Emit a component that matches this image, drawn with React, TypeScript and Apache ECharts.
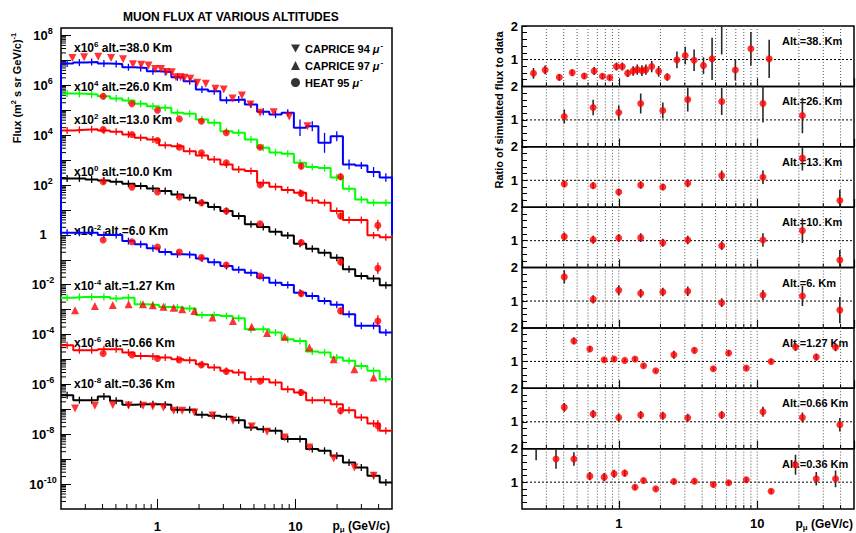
import React, { useEffect, useRef } from "react";
import * as echarts from "echarts";

const FONT = "'Liberation Sans', Arial, Helvetica, sans-serif";
const DOWN_TRI = "path://M0,0L10,0L5,8.66Z";

// ---- axis tick positions (GeV/c) ----
const xMinorTicks = [0.3, 0.4, 0.5, 0.6, 0.7, 0.8, 0.9, 2, 3, 4, 5, 6, 7, 8, 9, 20, 30, 40];
const xMajorTicks = [1, 10];

// ---- simulation histogram bin edges (GeV/c) ----
const binEdges = [0.2, 0.2454, 0.3011, 0.3694, 0.4532, 0.5559, 0.682, 0.8367, 1.027, 1.26, 1.545, 1.896, 2.326, 2.854, 3.501, 4.295, 5.27, 6.466, 7.932, 9.732, 11.94, 14.65, 17.97, 22.05, 27.05, 33.19, 40.72, 50];

// ---- simulated flux (already multiplied by the altitude scale factor) ----
const sim38 = [7.48e6, 8.2e6, 8.73e6, 7.48e6, 7.24e6, 5.33e6, 5.01e6, 3.69e6, 3.47e6, 2.12e6, 1.47e6, 6.79e5, 5.82e5, 2.54e5, 2.7e5, 1.7e5, 8.65e4, 6.76e4, 7.89e4, 1.97e4, 2.3e4, 4.94e3, 9.12e3, 670, 611, 331, 200];
// statistical error of the 38 km histogram, in decades
const sim38ErrDex = [0, 0, 0, 0, 0, 0, 0, 0, 0, 0, 0, 0, 0, 0, 0, 0, 0.05, 0.06, 0.08, 0.33, 0.2, 0.4, 0.2, 0.2, 0.13, 0.2, 0.17];
const sim38Floor = 1;
const sim26 = [4.69e5, 4.55e5, 4.28e5, 3.67e5, 2.96e5, 2.46e5, 1.81e5, 1.46e5, 1.25e5, 7.89e4, 7.19e4, 4.26e4, 3.13e4, 1.45e4, 1.24e4, 6.73e3, 3.12e3, 2.0e3, 1.78e3, 783, 525, 479, 200, 70.8, 26.3, 19.5, 19.5];
const sim13 = [1.54e4, 1.64e4, 1.75e4, 1.54e4, 1.36e4, 1.07e4, 7.83e3, 6.73e3, 3.99e3, 3.63e3, 2.29e3, 1.54e3, 1.06e3, 670, 422, 362, 123, 85.1, 62.5, 49.0, 24.2, 19.5, 8.99, 3.92, 3.92, 0.955, 0.794];
const sim10 = [184, 184, 168, 153, 135, 112, 90.6, 73.1, 57.1, 42.0, 30.9, 19.5, 13.1, 9.02, 5.69, 2.64, 2.06, 1.32, 0.933, 0.437, 0.275, 0.191, 0.12, 0.0417, 0.0224, 0.0178, 0.00955];
const sim6 = [1.22, 1.22, 1.22, 0.982, 0.982, 0.562, 0.417, 0.288, 0.204, 0.166, 0.158, 0.112, 0.0794, 0.0562, 0.0398, 0.0302, 0.0191, 0.012, 0.00977, 0.00479, 0.00355, 0.00224, 0.00158, 6.46e-4, 2.24e-4, 2.24e-4, 1.2e-4];
const sim127 = [3.03e-3, 3.23e-3, 3.23e-3, 3.23e-3, 2.77e-3, 3.03e-3, 1.64e-3, 1.54e-3, 1.28e-3, 1.21e-3, 1.1e-3, 6.12e-4, 6.12e-4, 5.58e-4, 4.51e-4, 1.63e-4, 1.63e-4, 1.2e-4, 6.49e-5, 5.56e-5, 2.08e-5, 1.9e-5, 1.19e-5, 8.79e-6, 5.53e-6, 3.49e-6, 1.62e-6];
const sim066 = [3.73e-5, 2.35e-5, 2.35e-5, 2.58e-5, 2.58e-5, 1.9e-5, 1.39e-5, 1.31e-5, 1.19e-5, 1.02e-5, 9.33e-6, 6.46e-6, 4.74e-6, 3.49e-6, 2.99e-6, 1.62e-6, 1.62e-6, 1.19e-6, 6.43e-7, 4.72e-7, 2.33e-7, 2.33e-7, 1.61e-7, 9.25e-8, 4.7e-8, 2.7e-8, 1.37e-8];
const sim036 = [3.7e-7, 2.33e-7, 2.33e-7, 3.27e-7, 2.19e-7, 1.51e-7, 1.61e-7, 1.61e-7, 1.51e-7, 9.55e-8, 9.55e-8, 6.01e-8, 5.48e-8, 5.0e-8, 3.67e-8, 1.87e-8, 1.6e-8, 1.37e-8, 6.37e-9, 6.37e-9, 2.53e-9, 2.17e-9, 1.37e-9, 7.4e-10, 4.66e-10, 2.16e-10, 1.17e-10];

// ---- measured data (scaled) ----
const caprice94BalloonP = [0.242, 0.294, 0.372, 0.461, 0.563, 0.664, 0.762, 0.861, 0.962, 1.06, 1.16, 1.27, 1.36, 1.47, 1.57, 1.73, 1.94, 2.24, 2.63, 3.02, 3.5, 4.09, 4.72, 5.54, 6.95, 9.0, 12.2];
const caprice94At38 = [1.26e7, 1.35e7, 1.41e7, 1.26e7, 1.12e7, 7.08e6, 6.76e6, 6.31e6, 4.57e6, 4.57e6, 3.47e6, 3.39e6, 2.09e6, 2.09e6, 2.0e6, 1.86e6, 1.26e6, 1.15e6, 7.24e5, 6.76e5, 2.95e5, 3.89e5, 1.7e5, 7.94e4, 8.32e4, 5.62e4, 2.29e4];
const heatP = [0.404, 0.653, 1.0, 1.44, 2.08, 3.15, 5.54, 11.0, 21.2, 39.5];
// HEAT measurement error, in decades
const heatErrDex = [0.02, 0.02, 0.02, 0.02, 0.03, 0.03, 0.05, 0.12, 0.14, 0.23];
const heat26 = [3.66e5, 1.82e5, 1.0e5, 4.5e4, 3.6e4, 1.25e4, 3.3e3, 572, 215];
const heat13 = [1.7e4, 1.07e4, 6.1e3, 3.3e3, 1.96e3, 780, 100, 46, 5.7, 2.4];
const heat10 = [135, 82.6, 52.5, 32.8, 19.5, 9.0, 2.8, 0.49, 0.081, 0.046];
const heat6 = [0.621, 0.532, 0.325, 0.205, 0.122, 0.0618, 0.0224, 0.00439, 8.9e-4, 3.5e-4];
const heat066 = [1.73e-5, 1.53e-5, 1.1e-5, 9.64e-6, 6.07e-6, 3.28e-6, 1.35e-6, 4.72e-7, 8.71e-8, 2.19e-8];
const groundP = [0.253, 0.352, 0.474, 0.618, 0.785, 0.925, 1.104, 1.31, 1.51, 1.85, 2.5, 3.52, 4.82, 6.22, 8.34, 12.6, 18.9, 26.7, 36.8];
const caprice97At127 = [9.42e-4, 1.41e-3, 1.55e-3, 1.64e-3, 1.64e-3, 1.49e-3, 1.32e-3, 1.2e-3, 1.03e-3, 8.91e-4, 4.79e-4, 3.51e-4, 2.04e-4, 1.15e-4, 8.13e-5, 3.02e-5, 1.02e-5, 4.07e-6, 1.91e-6];
const caprice94At036 = [1.07e-7, 1.38e-7, 1.48e-7, 1.41e-7, 1.38e-7, 1.29e-7, 1.17e-7, 8.71e-8, 8.71e-8, 7.41e-8, 5.62e-8, 3.47e-8, 2.04e-8, 1.26e-8, 7.41e-9, 2.95e-9, 1.07e-9, 4.68e-10, 2.14e-10];

// ---- ratio of simulated flux to data ----
const ratio38 = [0.59, 0.69, 0.47, 0.61, 0.51, 0.66, 0.5, 0.46, 0.79, 0.79, 0.59, 0.66, 0.7, 0.67, 0.7, 0.79, 0.65, 0.48, 0.99, 1.12, 0.98, 0.82, 1.02, 2.3, 0.69, 1.32, 1.02];
const ratio38Err = [0.16, 0.13, 0.1, 0.09, 0.08, 0.12, 0.08, 0.07, 0.12, 0.12, 0.11, 0.14, 0.15, 0.16, 0.15, 0.17, 0.16, 0.11, 0.25, 0.26, 0.32, 0.25, 0.63, 1.15, 0.31, 0.5, 0.57];
const ratio26 = [1.1, 1.37, 1.22, 1.49, 1.28, 1.61, 1.55, 1.49, 1.13];
const ratio26Err = [0.21, 0.23, 0.21, 0.3, 0.24, 0.36, 0.4, 0.57, 0.53];
const ratio13 = [0.89, 0.84, 0.65, 0.86, 0.8, 0.91, 1.14, 1.09, 1.66, 0.4];
const ratio13Err = [0.1, 0.1, 0.1, 0.11, 0.1, 0.12, 0.15, 0.2, 0.37, 0.32];
const ratio10 = [1.12, 1.03, 1.08, 1.09, 0.94, 1.02, 0.85, 1.02, 1.3, 0.42];
const ratio10Err = [0.12, 0.12, 0.12, 0.13, 0.12, 0.13, 0.13, 0.2, 0.37, 0.3];
const ratio6 = [1.72, 1.05, 1.32, 1.23, 1.27, 1.29, 0.95, 1.18, 1.15, 0.73];
const ratio6Err = [0.2, 0.12, 0.15, 0.13, 0.13, 0.14, 0.13, 0.15, 0.3, 0.39];
const ratio127P = [0.474, 0.618, 0.785, 0.925, 1.104, 1.31, 1.51, 1.85, 2.5, 3.52, 4.82, 6.22, 8.34, 12.6, 18.9, 26.7, 36.8];
const ratio127 = [1.61, 1.37, 1.05, 1.07, 1.03, 1.07, 0.87, 0.72, 1.2, 1.33, 0.78, 1.25, 0.8, 1.0, 1.43, 1.13, 1.42];
const ratio127Err = [0.1, 0.08, 0.06, 0.06, 0.05, 0.06, 0.06, 0.05, 0.12, 0.08, 0.06, 0.08, 0.06, 0.07, 0.12, 0.1, 0.12];
const ratio066 = [1.43, 1.23, 1.13, 1.2, 1.18, 1.12, 1.2, 1.3, 1.13, 0.91];
const ratio066Err = [0.13, 0.12, 0.12, 0.12, 0.12, 0.12, 0.12, 0.15, 0.15, 0.2];
const ratio036 = [2.05, 1.69, 1.69, 1.18, 1.15, 1.25, 1.27, 0.85, 1.05, 0.8, 1.02, 1.03, 0.93, 0.98, 1.07, 0.73, 1.52, 1.1, 1.1];
const ratio036Err = [0.4, 0.29, 0.2, 0.12, 0.12, 0.12, 0.1, 0.07, 0.07, 0.05, 0.08, 0.07, 0.07, 0.07, 0.08, 0.07, 0.3, 0.2, 0.25];

const BLUE = "#0000ff";
const GREEN = "#00ff00";
const RED = "#ff0000";
const BLACK = "#000000";

function zip(xs: number[], ys: number[]) {
  return ys.map((y, i) => [xs[i], y]);
}

function histData(vals: number[], floor?: number) {
  const pts: number[][] = [];
  if (floor != null) pts.push([binEdges[0], floor]);
  vals.forEach((v, k) => pts.push([binEdges[k], v]));
  pts.push([binEdges[vals.length], vals[vals.length - 1]]);
  if (floor != null) pts.push([binEdges[vals.length], floor]);
  return pts;
}

function lineEl(x1: number, y1: number, x2: number, y2: number, style: any) {
  return { type: "line", shape: { x1, y1, x2, y2 }, style };
}

function textEl(x: number, y: number, text: string, opts: any = {}) {
  const { align = "left", rotation = 0, fontSize = 12, rich } = opts;
  return {
    type: "text",
    x,
    y,
    rotation,
    silent: true,
    style: {
      text,
      fill: "#000",
      fontSize,
      fontWeight: "bold",
      fontFamily: FONT,
      align,
      textAlign: align,
      verticalAlign: "middle",
      textVerticalAlign: "middle",
      rich,
    },
  };
}

function tokenStyle(size: number, extra: any = {}) {
  return { fontSize: size, fontWeight: "bold", fontFamily: FONT, fill: "#000", color: "#000", ...extra };
}

function powLabel(v: number) {
  const lg = Math.log10(v);
  const e = Math.round(lg);
  if (Math.abs(lg - e) > 0.01) return "";
  if (e % 2 !== 0) return "";
  if (e === 0) return "{b|1}";
  return `{b|10}{e|${e}}`;
}

function buildOption() {
  const grid: any[] = [];
  const xAxis: any[] = [];
  const yAxis: any[] = [];
  const series: any[] = [];
  const axisTxt = { color: "#000", fontFamily: FONT, fontWeight: "bold" };

  // ---------- left panel ----------
  grid.push({ left: 61, top: 28, width: 331, height: 481, show: true, borderColor: "#000", borderWidth: 1.5, backgroundColor: "rgba(0,0,0,0)" });
  xAxis.push({
    type: "log", logBase: 10, gridIndex: 0, min: 0.2, max: 50,
    axisLine: { show: false },
    axisTick: { inside: true, length: 10, lineStyle: { color: "#000", width: 1 } },
    axisLabel: { ...axisTxt, fontSize: 13, margin: 11, showMinLabel: false, showMaxLabel: false },
    splitLine: { show: false },
  });
  yAxis.push({
    type: "log", logBase: 10, gridIndex: 0, min: 1e-11, max: 2e8, interval: 1,
    axisLine: { show: false },
    axisTick: { inside: true, length: 10, lineStyle: { color: "#000", width: 1 } },
    axisLabel: {
      showMinLabel: false, showMaxLabel: false, margin: 18, align: "center",
      formatter: powLabel,
      rich: { b: tokenStyle(13), e: tokenStyle(9, { padding: [0, 0, 9, 0] }) },
    },
    splitLine: { show: false },
  });

  // minor ticks of the left panel
  series.push({
    type: "custom", xAxisIndex: 0, yAxisIndex: 0, silent: true, z: 1, data: [[1, 1]],
    renderItem: (params: any, api: any) => {
      const cs = params.coordSys;
      const ch: any[] = [];
      const st = { stroke: "#000", lineWidth: 1 };
      for (const x of xMinorTicks) {
        const px = api.coord([x, 1])[0];
        ch.push(lineEl(px, cs.y + cs.height, px, cs.y + cs.height - 5, st));
      }
      for (let d = -11; d <= 8; d++) {
        for (let m = 2; m <= 9; m++) {
          const v = m * Math.pow(10, d);
          if (v >= 2e8) continue;
          const py = api.coord([1, v])[1];
          ch.push(lineEl(cs.x, py, cs.x + 5, py, st));
        }
      }
      return { type: "group", children: ch };
    },
  });

  const histos = [
    { sim: sim036, color: BLACK },
    { sim: sim066, color: RED },
    { sim: sim127, color: GREEN },
    { sim: sim6, color: BLUE },
    { sim: sim10, color: BLACK },
    { sim: sim13, color: RED },
    { sim: sim26, color: GREEN },
    { sim: sim38, color: BLUE, floor: sim38Floor, err: sim38ErrDex },
  ];
  histos.forEach((h: any) => {
    series.push({
      type: "line", xAxisIndex: 0, yAxisIndex: 0, step: "end", symbol: "none", silent: true,
      data: histData(h.sim, h.floor), lineStyle: { color: h.color, width: 2 }, z: 2,
    });
    const centers = h.sim.map((v: number, k: number) => [Math.sqrt(binEdges[k] * binEdges[k + 1]), v, h.err ? h.err[k] : 0]);
    series.push({
      type: "custom", xAxisIndex: 0, yAxisIndex: 0, silent: true, z: 3, data: centers, clip: true,
      renderItem: (params: any, api: any) => {
        const x = api.value(0);
        const v = api.value(1);
        const e = api.value(2);
        const p = api.coord([x, v]);
        const lo = api.coord([x, v * Math.pow(10, -e)])[1];
        const hi = api.coord([x, v * Math.pow(10, e)])[1];
        const y1 = Math.min(hi, p[1] - 3.5);
        const y2 = Math.max(lo, p[1] + 3.5);
        return lineEl(p[0], y1, p[0], y2, { stroke: h.color, lineWidth: 1.3 });
      },
    });
  });

  const markers = [
    { name: "CAPRICE 94", x: caprice94BalloonP, y: caprice94At38, symbol: DOWN_TRI, size: 8 },
    { name: "HEAT 95", x: heatP, y: heat26, symbol: "circle", size: 7, err: heatErrDex },
    { name: "HEAT 95", x: heatP, y: heat13, symbol: "circle", size: 7, err: heatErrDex },
    { name: "HEAT 95", x: heatP, y: heat10, symbol: "circle", size: 7, err: heatErrDex },
    { name: "HEAT 95", x: heatP, y: heat6, symbol: "circle", size: 7, err: heatErrDex },
    { name: "CAPRICE 97", x: groundP, y: caprice97At127, symbol: "triangle", size: 8 },
    { name: "HEAT 95", x: heatP, y: heat066, symbol: "circle", size: 7, err: heatErrDex },
    { name: "CAPRICE 94", x: groundP, y: caprice94At036, symbol: DOWN_TRI, size: 8 },
  ];
  markers.forEach((m: any) => {
    if (m.err) {
      series.push({
        type: "custom", xAxisIndex: 0, yAxisIndex: 0, silent: true, z: 4, clip: true,
        data: m.y.map((y: number, k: number) => [m.x[k], y, m.err[k]]),
        renderItem: (params: any, api: any) => {
          const x = api.value(0);
          const v = api.value(1);
          const e = api.value(2);
          const a = api.coord([x, v * Math.pow(10, -e)]);
          const b = api.coord([x, v * Math.pow(10, e)]);
          return lineEl(a[0], a[1], b[0], b[1], { stroke: RED, lineWidth: 1.3 });
        },
      });
    }
    series.push({
      type: "scatter", name: m.name, xAxisIndex: 0, yAxisIndex: 0, symbol: m.symbol, symbolSize: m.size,
      data: zip(m.x, m.y), itemStyle: { color: RED }, z: 5, silent: true,
    });
  });

  // ---------- right panels ----------
  const panels = [
    { x: caprice94BalloonP, v: ratio38, e: ratio38Err, label: "Alt.=38. Km" },
    { x: heatP, v: ratio26, e: ratio26Err, label: "Alt.=26. Km" },
    { x: heatP, v: ratio13, e: ratio13Err, label: "Alt.=13. Km" },
    { x: heatP, v: ratio10, e: ratio10Err, label: "Alt.=10. Km" },
    { x: heatP, v: ratio6, e: ratio6Err, label: "Alt.=6. Km" },
    { x: ratio127P, v: ratio127, e: ratio127Err, label: "Alt.=1.27 Km" },
    { x: heatP, v: ratio066, e: ratio066Err, label: "Alt.=0.66 Km" },
    { x: groundP, v: ratio036, e: ratio036Err, label: "Alt.=0.36 Km" },
  ];
  const PANEL_TOP = 26;
  const PANEL_H = 60.375;
  const graphic: any[] = [];

  panels.forEach((p, i) => {
    const gi = i + 1;
    const top = PANEL_TOP + i * PANEL_H;
    grid.push({ left: 522, top, width: 332, height: PANEL_H, show: true, borderColor: "#000", borderWidth: 1.5, backgroundColor: "rgba(0,0,0,0)" });
    xAxis.push({
      type: "log", logBase: 10, gridIndex: gi, min: 0.2, max: 50,
      axisLine: { show: false },
      axisTick: { inside: true, length: 8, lineStyle: { color: "#000", width: 1.2 } },
      axisLabel: { show: i === panels.length - 1, ...axisTxt, fontSize: 13, margin: 8, showMinLabel: false, showMaxLabel: false },
      splitLine: { show: false },
    });
    yAxis.push({
      type: "value", gridIndex: gi, min: 0.2, max: 2, interval: 0.2,
      axisLine: { show: false },
      axisTick: { inside: true, length: 5, lineStyle: { color: "#000", width: 1 } },
      axisLabel: {
        ...axisTxt, fontSize: 13, margin: 4, showMinLabel: false, showMaxLabel: true,
        formatter: (v: number) => (Math.abs(v - 1) < 1e-6 ? "1" : Math.abs(v - 2) < 1e-6 ? "2" : ""),
      },
      splitLine: { show: false },
    });
    // dotted grid
    series.push({
      type: "custom", xAxisIndex: gi, yAxisIndex: gi, silent: true, z: 1, data: [[1, 1]],
      renderItem: (params: any, api: any) => {
        const cs = params.coordSys;
        const ch: any[] = [];
        for (const x of [...xMinorTicks, ...xMajorTicks]) {
          const px = api.coord([x, 1])[0];
          ch.push(lineEl(px, cs.y, px, cs.y + cs.height, { stroke: "#555", lineWidth: 1, lineDash: [1, 2] }));
        }
        for (const x of xMinorTicks) {
          const px = api.coord([x, 1])[0];
          ch.push(lineEl(px, cs.y + cs.height, px, cs.y + cs.height - 4, { stroke: "#000", lineWidth: 1 }));
        }
        const py = api.coord([1, 1])[1];
        ch.push(lineEl(cs.x, py, cs.x + cs.width, py, { stroke: "#000", lineWidth: 1, lineDash: [2, 2] }));
        return { type: "group", children: ch };
      },
    });
    // error bars
    series.push({
      type: "custom", xAxisIndex: gi, yAxisIndex: gi, silent: true, z: 3, clip: true,
      data: p.v.map((v, k) => [p.x[k], v, p.e[k]]),
      renderItem: (params: any, api: any) => {
        const x = api.value(0);
        const v = api.value(1);
        const e = api.value(2);
        const a = api.coord([x, v - e]);
        const b = api.coord([x, v + e]);
        return lineEl(a[0], a[1], b[0], b[1], { stroke: "#2a2a2a", lineWidth: 1.6 });
      },
    });
    series.push({
      type: "scatter", name: `ratio-${i}`, xAxisIndex: gi, yAxisIndex: gi, symbol: "circle", symbolSize: 7, clip: true,
      data: zip(p.x, p.v), itemStyle: { color: RED }, z: 4, silent: true,
    });
    graphic.push(textEl(782, top + 15, p.label, { fontSize: 11 }));
  });

  // left altitude labels
  const leftLabels = [
    { exp: "6", alt: "38.0", y: 48 },
    { exp: "4", alt: "26.0", y: 87 },
    { exp: "2", alt: "13.0", y: 120 },
    { exp: "0", alt: "10.0", y: 172 },
    { exp: "-2", alt: "6.0", y: 231 },
    { exp: "-4", alt: "1.27", y: 286 },
    { exp: "-6", alt: "0.66", y: 343 },
    { exp: "-8", alt: "0.36", y: 384 },
  ];
  const labRich = { b: tokenStyle(12), e: tokenStyle(8, { padding: [0, 0, 8, 0] }) };
  leftLabels.forEach((l) => {
    graphic.push(textEl(74, l.y, `{b|x10}{e|${l.exp}}{b| alt.=${l.alt} Km}`, { rich: labRich }));
  });

  // axis titles
  const titleRich = { b: tokenStyle(11), e: tokenStyle(7.5, { padding: [0, 0, 7, 0] }) };
  graphic.push(textEl(17, 88, "{b|Flux (m}{e|2}{b| s sr GeV/c)}{e|-1}", { rotation: Math.PI / 2, align: "center", rich: titleRich }));
  graphic.push(textEl(499, 110, "Ratio of simulated flux to data", { rotation: Math.PI / 2, align: "center", fontSize: 11 }));
  const pRich = { b: tokenStyle(12), s: tokenStyle(8, { padding: [7, 0, 0, 0] }) };
  graphic.push(textEl(390, 526, "{b|p}{s|μ}{b| (GeV/c)}", { align: "right", rich: pRich }));
  graphic.push(textEl(853, 524, "{b|p}{s|μ}{b| (GeV/c)}", { align: "right", rich: pRich }));

  return {
    animation: false,
    backgroundColor: "#ffffff",
    title: {
      text: "MUON FLUX AT VARIOUS ALTITUDES",
      left: 118,
      top: 6,
      textStyle: { fontSize: 12, fontWeight: "bold", fontFamily: FONT, color: "#000" },
    },
    legend: {
      left: 286,
      top: 36,
      orient: "vertical",
      itemWidth: 9,
      itemHeight: 9,
      itemGap: 4,
      selectedMode: false,
      itemStyle: { color: "#000", borderWidth: 0 },
      data: [
        { name: "CAPRICE 94", icon: DOWN_TRI },
        { name: "CAPRICE 97", icon: "triangle" },
        { name: "HEAT 95", icon: "circle" },
      ],
      formatter: (name: string) => `{b|${name} }{mu|μ}{sup|-}`,
      textStyle: {
        color: "#000",
        fontFamily: FONT,
        fontWeight: "bold",
        fontSize: 11,
        rich: {
          b: { fontSize: 11, fontWeight: "bold", fontFamily: FONT, color: "#000" },
          mu: { fontSize: 11, fontWeight: "bold", fontStyle: "italic", fontFamily: FONT, color: "#000" },
          sup: { fontSize: 8, fontWeight: "bold", fontFamily: FONT, color: "#000", padding: [0, 0, 7, 1] },
        },
      },
    },
    grid,
    xAxis,
    yAxis,
    series,
    graphic,
  };
}

export default function App() {
  const ref = useRef<HTMLDivElement>(null);
  useEffect(() => {
    const el = ref.current;
    if (!el) return;
    const chart = echarts.init(el, null, { renderer: "svg" });
    chart.setOption(buildOption() as any);
    return () => chart.dispose();
  }, []);
  return (
    <div
      ref={ref}
      style={{ position: "absolute", left: 0, top: 0, width: 856, height: 533, background: "#fff" }}
    />
  );
}
